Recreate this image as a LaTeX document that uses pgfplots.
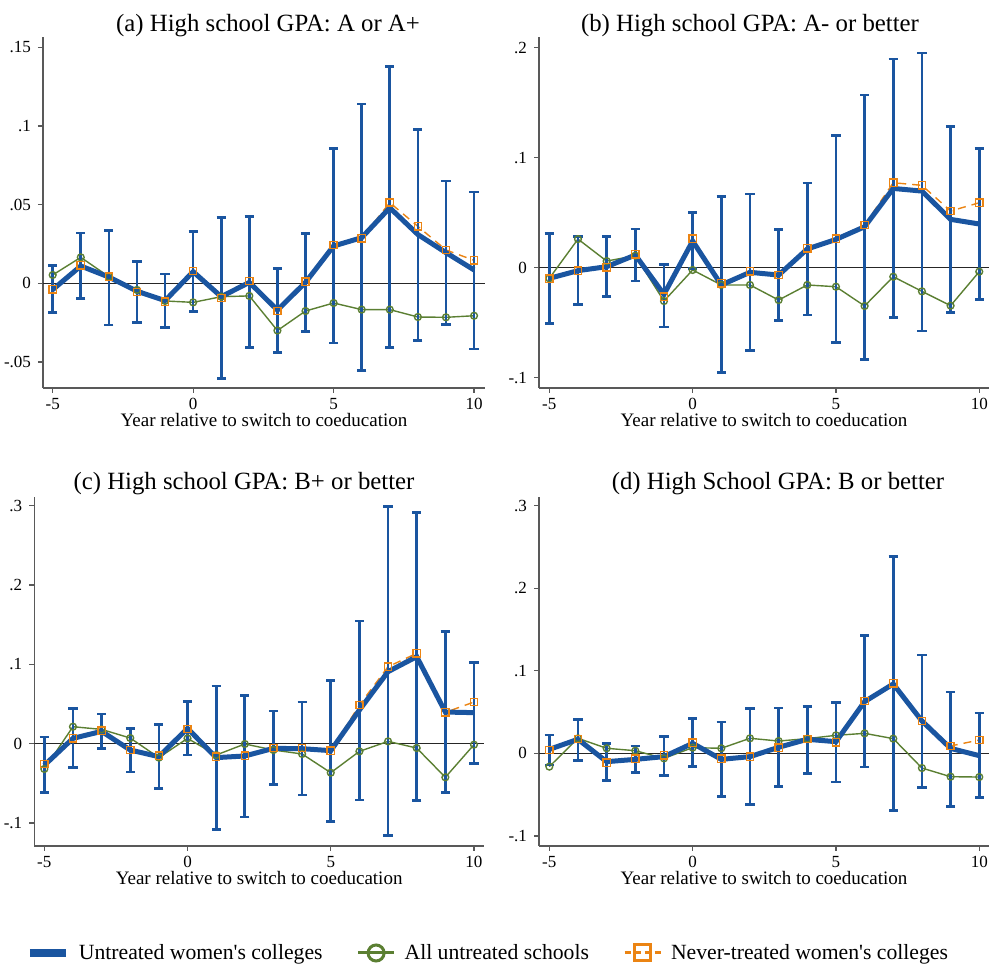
\documentclass[border=0pt]{standalone}
\usepackage{fontspec}
\setmainfont{Liberation Serif}
\usepackage{pgfplots}
\pgfplotsset{compat=1.18}
\usepackage{pgfplotstable}

\definecolor{cblue}{HTML}{1A55A0}
\definecolor{cgreen}{HTML}{5B7F32}
\definecolor{corange}{HTML}{EB8413}

\pgfplotstableread{
x b lo hi g o
-5 -0.004 -0.0184 0.0112 0.0053 -0.0038
-4 0.011 -0.0095 0.032 0.0165 0.0114
-3 0.004 -0.0265 0.0337 0.0042 0.0042
-2 -0.005 -0.0248 0.0138 -0.0042 -0.0055
-1 -0.011 -0.028 0.0059 -0.0112 -0.0117
0 0.0074 -0.018 0.033 -0.0121 0.0078
1 -0.0085 -0.0604 0.0417 -0.0085 -0.0093
2 0.0006 -0.0407 0.0424 -0.008 0.0015
3 -0.017 -0.0439 0.0095 -0.030 -0.0176
4 0.0006 -0.0305 0.0316 -0.0176 0.001
5 0.0237 -0.0379 0.0856 -0.0125 0.0244
6 0.029 -0.0553 0.114 -0.0167 0.0286
7 0.048 -0.0407 0.1377 -0.0167 0.0513
8 0.031 -0.0364 0.0979 -0.0214 0.0362
9 0.0195 -0.0263 0.065 -0.0216 0.0212
10 0.0085 -0.0417 0.058 -0.0206 0.0146
}\tA

\pgfplotstableread{
x b lo hi g o
-5 -0.0097 -0.0506 0.0309 -0.0097 -0.010
-4 -0.0027 -0.0336 0.0282 0.026 -0.0027
-3 0.0009 -0.026 0.0285 0.006 0.0003
-2 0.0115 -0.0121 0.0351 0.0109 0.0121
-1 -0.0242 -0.0539 0.003 -0.0303 -0.0263
0 0.0242 -0.001 0.050 -0.0021 0.0263
1 -0.0157 -0.095 0.0645 -0.0157 -0.0142
2 -0.0042 -0.075 0.0669 -0.0157 -0.0033
3 -0.0067 -0.048 0.0348 -0.0294 -0.0067
4 0.017 -0.043 0.0769 -0.0157 0.0176
5 0.0257 -0.0678 0.1199 -0.0173 0.0263
6 0.0372 -0.0833 0.1568 -0.0348 0.0388
7 0.072 -0.0454 0.1895 -0.0082 0.0772
8 0.0696 -0.0575 0.195 -0.0215 0.0748
9 0.0439 -0.0409 0.1284 -0.0345 0.0515
10 0.0397 -0.0288 0.1081 -0.0036 0.059
}\tB

\pgfplotstableread{
x b lo hi g o
-5 -0.0273 -0.0618 0.0084 -0.0319 -0.0256
-4 0.0067 -0.0298 0.0441 0.0214 0.0067
-3 0.0155 -0.0059 0.0374 0.018 0.0164
-2 -0.008 -0.0357 0.0193 0.0071 -0.008
-1 -0.0164 -0.0563 0.024 -0.0176 -0.0151
0 0.0193 -0.0143 0.0534 0.0067 0.0185
1 -0.0176 -0.1084 0.0727 -0.0143 -0.0164
2 -0.0155 -0.0924 0.0605 -0.0004 -0.0151
3 -0.0059 -0.0517 0.0412 -0.008 -0.0055
4 -0.0063 -0.0647 0.0525 -0.013 -0.0055
5 -0.0088 -0.0983 0.0794 -0.0366 -0.0088
6 0.0424 -0.071 0.1546 -0.0097 0.0487
7 0.0908 -0.116 0.2987 0.0029 0.097
8 0.1097 -0.0714 0.2916 -0.0055 0.1139
9 0.0399 -0.0618 0.1412 -0.0424 0.0395
10 0.0391 -0.0248 0.1021 -0.0013 0.0525
}\tC

\pgfplotstableread{
x b lo hi g o
-5 0.0048 -0.0141 0.0222 -0.0161 0.004
-4 0.017 -0.0089 0.0412 0.0182 0.0174
-3 -0.0101 -0.0331 0.0121 0.0061 -0.0113
-2 -0.0073 -0.023 0.0089 0.0032 -0.0065
-1 -0.004 -0.027 0.0202 -0.0061 -0.0024
0 0.0121 -0.0161 0.0424 0.0069 0.0129
1 -0.0073 -0.0521 0.0379 0.0061 -0.0065
2 -0.004 -0.0622 0.0541 0.0182 -0.004
3 0.0073 -0.0404 0.0549 0.0149 0.0069
4 0.017 -0.0246 0.0565 0.0178 0.0174
5 0.0141 -0.0347 0.0618 0.0218 0.0133
6 0.0626 -0.0166 0.1429 0.0242 0.0634
7 0.084 -0.0694 0.2382 0.0178 0.0848
8 0.0392 -0.0416 0.1191 -0.0178 0.0392
9 0.006 -0.0646 0.0743 -0.0283 0.0089
10 -0.0028 -0.0537 0.0488 -0.0287 0.0161
}\tD

\pgfplotsset{
  panel/.style={
    scale only axis, anchor=south west,
    axis lines=left,
    axis line style={-, draw=black!65, line width=0.6pt},
    tick align=outside, major tick length=2.5pt,
    tick style={draw=black!65, line width=0.6pt},
    xtick={-5,0,5,10}, xticklabels={-5,0,5,10},
    ticklabel style={font=\fontsize{8.5}{10}\selectfont},
    xticklabel style={anchor=base, yshift=-8.5pt},
    xlabel={Year relative to switch to coeducation},
    xlabel style={font=\fontsize{9.5}{11}\selectfont, at={(axis description cs:0.5,0)}, anchor=base, yshift=-19.5pt},
  },
  zline/.style={black!85, line width=0.7pt, forget plot},
  gser/.style={cgreen, line width=0.7pt, mark=o, mark size=1.7pt, mark options={solid, fill=none}, forget plot},
  oser/.style={corange, line width=0.7pt, dash pattern=on 4pt off 3pt, mark=square, mark size=1.8pt, mark options={solid, fill=none}, forget plot},
  bser/.style={cblue, line width=2.5pt, mark=none, forget plot,
    error bars/.cd, y dir=both, y explicit,
    error bar style={cblue, line width=1.35pt, solid},
    error mark options={cblue, line width=1.35pt, mark size=2.3pt, rotate=90}},
}

\newcommand{\panelplots}[3]{%
  \addplot[zline] coordinates {(#2,0) (#3,0)};
  \addplot[gser] table[x=x, y=g] {#1};
  \addplot[oser] table[x=x, y=o] {#1};
  \addplot[bser] table[x=x, y=b, y error plus expr=\thisrow{hi}-\thisrow{b}, y error minus expr=\thisrow{b}-\thisrow{lo}] {#1};
}

\begin{document}
\begin{tikzpicture}
\path[use as bounding box] (0,0) rectangle (496pt,484.5pt);

% (a)
\begin{axis}[panel, at={(21.5pt,290.5pt)}, width=221pt, height=175.5pt,
  xmin=-5.345, xmax=10.39, ymin=-0.0665, ymax=0.1565,
  ytick={-0.05,0,0.05,0.1,0.15}, yticklabels={-.05,0,.05,.1,.15}]
\panelplots{\tA}{-5.345}{10.39}
\end{axis}

% (b)
\begin{axis}[panel, at={(269.5pt,290.5pt)}, width=225pt, height=175.5pt,
  xmin=-5.36, xmax=10.34, ymin=-0.1093, ymax=0.2096,
  ytick={-0.1,0,0.1,0.2}, yticklabels={-.1,0,.1,.2}]
\panelplots{\tB}{-5.36}{10.34}
\end{axis}

% (c)
\begin{axis}[panel, at={(17.15pt,61.5pt)}, width=224.85pt, height=174.5pt,
  xmin=-5.35, xmax=10.35, ymin=-0.129, ymax=0.311,
  ytick={-0.1,0,0.1,0.2,0.3}, yticklabels={-.1,0,.1,.2,.3},
  legend columns=3,
  legend style={at={(1.011,-0.3066)}, anchor=center, draw=none, fill=none,
    font=\fontsize{10.85}{12}\selectfont,
    /tikz/every odd column/.append style={column sep=2.5pt},
    /tikz/every even column/.append style={column sep=15pt}},
  legend cell align=left,
  legend image code/.code={\draw[mark repeat=2, mark phase=2, #1] plot coordinates {(0pt,0pt) (9pt,0pt) (18pt,0pt)};}]
\addlegendimage{cblue, line width=4pt}
\addlegendentry{Untreated women\textquotesingle s colleges}
\addlegendimage{cgreen, line width=1.5pt, mark=o, mark size=4pt, mark options={solid, fill=none}}
\addlegendentry{All untreated schools}
\addlegendimage{corange, line width=1.5pt, dash pattern=on 3pt off 2pt, mark=square, mark size=4pt, mark options={solid, fill=none}}
\addlegendentry{Never-treated women\textquotesingle s colleges}
\panelplots{\tC}{-5.35}{10.35}
\end{axis}

% (d)
\begin{axis}[panel, at={(269.5pt,61.5pt)}, width=225pt, height=174.5pt,
  xmin=-5.36, xmax=10.34, ymin=-0.1122, ymax=0.3104,
  ytick={-0.1,0,0.1,0.2,0.3}, yticklabels={-.1,0,.1,.2,.3}]
\panelplots{\tD}{-5.36}{10.34}
\end{axis}

\begin{scope}[every node/.style={anchor=base, font=\fontsize{12.4}{14}\selectfont, inner sep=0pt}]
\node at (134pt,468.5pt) {(a) High school GPA: A or A+};
\node at (375pt,468.5pt) {(b) High school GPA: A- or better};
\node at (122pt,239.5pt) {(c) High school GPA: B+ or better};
\node at (389pt,239.5pt) {(d) High School GPA: B or better};
\end{scope}
\end{tikzpicture}
\end{document}
